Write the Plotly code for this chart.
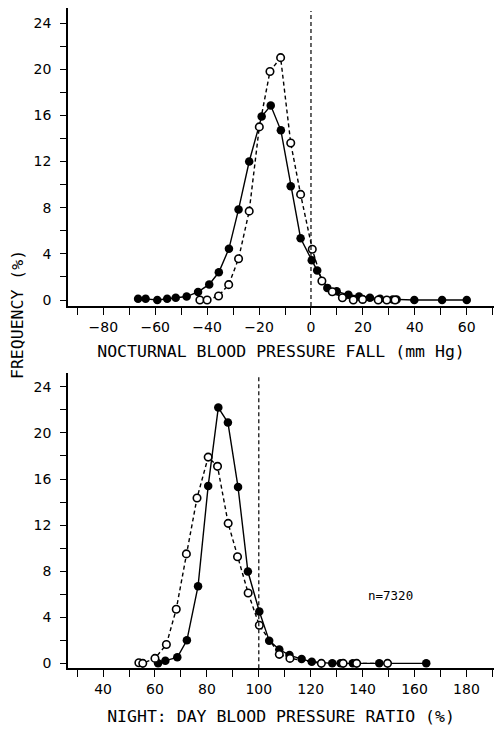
import plotly.graph_objects as go

# ---------------- data ----------------
# Top panel: nocturnal blood pressure fall (mm Hg)
fall_filled_x = [-66.6, -63.7, -59.2, -55.4, -52.1, -47.9, -43.5, -39.2, -35.5, -31.6,
                 -27.9, -23.8, -19.0, -15.5, -11.6, -7.8, -4.0, 0.3, 2.4, 6.3,
                 9.9, 14.4, 18.5, 22.7, 26.6, 31.5, 33.0, 39.8, 50.5, 60.0]
fall_filled_y = [0.1, 0.1, 0.0, 0.1, 0.2, 0.3, 0.7, 1.35, 2.4, 4.45,
                 7.85, 12.0, 15.9, 16.85, 14.7, 9.85, 5.35, 3.45, 2.55, 1.05,
                 0.75, 0.45, 0.3, 0.2, 0.1, 0.05, 0.05, 0.0, 0.0, 0.0]
fall_open_x = [-42.8, -40.0, -35.6, -31.7, -27.9, -23.8, -19.9, -15.8, -11.7, -7.8,
               -4.0, 0.5, 4.2, 8.2, 12.1, 16.3, 19.9, 25.9, 29.2, 32.4]
fall_open_y = [0.0, 0.0, 0.35, 1.33, 3.58, 7.7, 15.0, 19.8, 21.0, 13.6,
               9.15, 4.4, 1.65, 0.72, 0.2, 0.0, 0.05, 0.0, 0.0, 0.0]

# Bottom panel: night:day blood pressure ratio (%)
ratio_filled_x = [61.2, 64.0, 68.6, 72.3, 76.6, 80.5, 84.4, 88.1, 92.0, 95.8,
                  100.2, 104.0, 107.9, 111.8, 116.5, 120.4, 128.3, 131.5, 136.2, 146.4, 164.5]
ratio_filled_y = [0.0, 0.23, 0.52, 2.0, 6.7, 15.4, 22.2, 20.9, 15.3, 7.97,
                  4.5, 1.97, 1.2, 0.72, 0.37, 0.14, 0.0, 0.0, 0.0, 0.0, 0.0]
ratio_open_x = [53.8, 55.3, 60.0, 64.4, 68.2, 72.1, 76.2, 80.5, 84.1, 88.2,
                91.8, 95.9, 100.2, 107.9, 112.0, 124.1, 132.5, 137.7, 149.6]
ratio_open_y = [0.05, 0.0, 0.43, 1.64, 4.7, 9.5, 14.35, 17.9, 17.1, 12.15,
                9.25, 6.1, 3.3, 0.78, 0.43, 0.0, 0.0, 0.0, 0.0]

# ticks
top_tick_vals = list(range(-90, 71, 10))
top_tick_text = ["\u2212" + str(-v) if v < 0 else str(v) for v in top_tick_vals]
top_tick_text = [t if v % 20 == 0 else "" for v, t in zip(top_tick_vals, top_tick_text)]
bot_tick_vals = list(range(30, 191, 10))
bot_tick_text = [str(v) if v % 20 == 0 else "" for v in bot_tick_vals]
y_tick_vals = list(range(0, 25, 2))
y_tick_text = [str(v) if v % 4 == 0 else "" for v in y_tick_vals]

top_ref_line = 0
bot_ref_line = 100
n_label = "n=7320"

# ---------------- figure ----------------
W, H = 494, 729
tick_font = dict(family="DejaVu Sans", size=14, color="black")
title_font = dict(family="DejaVu Sans Mono", size=16.5, color="black")

fig = go.Figure()

def add_series(x, y, xa, ya, filled):
    if filled:
        fig.add_trace(go.Scatter(
            x=x, y=y, xaxis=xa, yaxis=ya, mode="lines+markers",
            line=dict(color="black", width=1.4),
            marker=dict(size=8.5, color="black", line=dict(width=0)),
            showlegend=False))
    else:
        fig.add_trace(go.Scatter(
            x=x, y=y, xaxis=xa, yaxis=ya, mode="lines+markers",
            line=dict(color="black", width=1.4, dash="4px,3px"),
            marker=dict(size=7.5, color="white", line=dict(color="black", width=1.6)),
            showlegend=False))

add_series(fall_filled_x, fall_filled_y, "x", "y", True)
add_series(fall_open_x, fall_open_y, "x", "y", False)
add_series(ratio_filled_x, ratio_filled_y, "x2", "y2", True)
add_series(ratio_open_x, ratio_open_y, "x2", "y2", False)

x_dom = [68 / W, 1.0]
top_dom = [1 - 306 / H, 1 - 8 / H]
bot_dom = [1 - 668.3 / H, 1 - 373 / H]

common_x = dict(showgrid=False, zeroline=False, showline=True, linecolor="black", linewidth=1.5,
                ticks="outside", ticklen=7, tickwidth=1.3, tickcolor="black",
                tickfont=tick_font, automargin=False, fixedrange=True,
                title_font=title_font)
common_y = dict(showgrid=False, zeroline=False, showline=True, linecolor="black", linewidth=1.5,
                ticks="outside", ticklen=6, tickwidth=1.3, tickcolor="black",
                tickfont=tick_font, automargin=False, fixedrange=True,
                tickvals=y_tick_vals, ticktext=y_tick_text, ticklabelstandoff=6)

fig.update_layout(
    width=W, height=H,
    margin=dict(l=0, r=0, t=0, b=0),
    paper_bgcolor="white", plot_bgcolor="white",
    xaxis=dict(common_x, domain=x_dom, anchor="y", range=[-93.6, 70.5],
               tickvals=top_tick_vals, ticktext=top_tick_text,
               title=dict(text="NOCTURNAL BLOOD PRESSURE FALL (mm Hg)", standoff=12)),
    yaxis=dict(common_y, domain=top_dom, anchor="x", range=[-0.52, 25.3]),
    xaxis2=dict(common_x, domain=x_dom, anchor="y2", range=[26.5, 190.6],
                tickvals=bot_tick_vals, ticktext=bot_tick_text,
                title=dict(text="NIGHT: DAY BLOOD PRESSURE RATIO (%)", standoff=15)),
    yaxis2=dict(common_y, domain=bot_dom, anchor="x2", range=[-0.43, 25.2]),
    shapes=[
        dict(type="line", xref="x", yref="y domain", x0=top_ref_line, x1=top_ref_line,
             y0=0, y1=0.99, line=dict(color="black", width=1.2, dash="4px,3px")),
        dict(type="line", xref="x2", yref="y2 domain", x0=bot_ref_line, x1=bot_ref_line,
             y0=0, y1=0.99, line=dict(color="black", width=1.2, dash="4px,3px")),
    ],
    annotations=[
        dict(text="FREQUENCY (%)", xref="paper", yref="paper", x=18 / W, y=1 - 315 / H,
             textangle=-90, showarrow=False, font=title_font, xanchor="center", yanchor="middle"),
        dict(text=n_label, xref="paper", yref="paper", x=390 / W, y=1 - 595 / H,
             showarrow=False, font=dict(family="DejaVu Sans Mono", size=12.5, color="black"),
             xanchor="center", yanchor="middle"),
    ],
)

fig.write_html("out.html")
